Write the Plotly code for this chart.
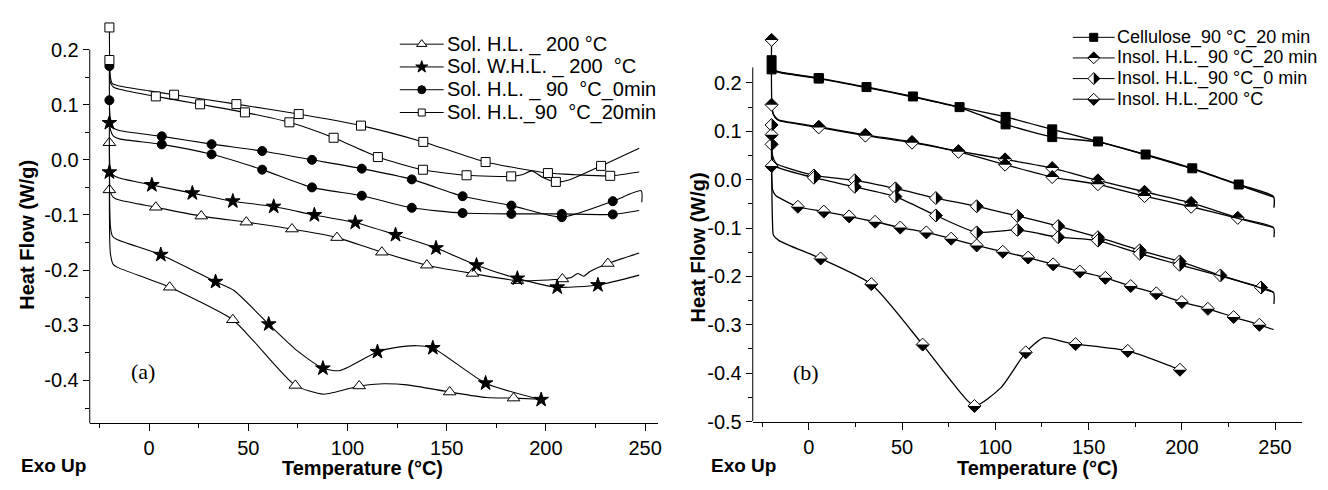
import plotly.graph_objects as go

W, H = 1328, 490

# ================= Panel (a) : soluble fractions =================
# Sol. H.L._90 °C_20min (open squares) - two runs
a_sq1_x = [-20, -19.5, -18.5, -15, 0, 12.6, 44, 75.4, 106.8, 138.2, 169.6, 201, 215, 232.4, 247]
a_sq1_y = [0.240, 0.150, 0.138, 0.134, 0.125, 0.118, 0.101, 0.083, 0.062, 0.0325, -0.004, -0.024, -0.027, -0.029, -0.022]
a_sq1_mk = [0, 5, 6, 7, 8, 9, 10, 11, 13]
a_sq2_x = [-20, -19.5, -18, -15, 3.4, 25.7, 48.3, 70.7, 93, 115.3, 138, 160, 182.5, 188, 193, 198, 205, 212, 227.8, 247]
a_sq2_y = [0.181, 0.140, 0.132, 0.128, 0.115, 0.1007, 0.086, 0.068, 0.040, 0.005, -0.018, -0.028, -0.030, -0.027, -0.020, -0.031, -0.040, -0.036, -0.011, 0.021]
a_sq2_mk = [0, 4, 5, 6, 7, 8, 9, 10, 11, 12, 16, 18]

# Sol. H.L. _ 90 °C_0min (filled circles) - two runs
a_ci1_x = [-20, -19.5, -18, -15, 6.4, 31.5, 57, 82.1, 107.2, 132.4, 158, 182.6, 208, 233.7, 248, 248.3]
a_ci1_y = [0.170, 0.070, 0.058, 0.053, 0.0426, 0.0284, 0.016, 0.0, -0.016, -0.0355, -0.066, -0.083, -0.104, -0.075, -0.056, -0.077]
a_ci1_mk = [0, 4, 5, 6, 7, 8, 9, 10, 11, 12, 13]
a_ci2_x = [-20, -19.5, -18, -15, 6.4, 31.5, 57, 82.1, 107.2, 132.4, 158, 182.6, 208, 233.7, 247]
a_ci2_y = [0.108, 0.055, 0.043, 0.038, 0.028, 0.010, -0.0178, -0.050, -0.065, -0.087, -0.0965, -0.098, -0.098, -0.099, -0.092]
a_ci2_mk = [0, 4, 5, 6, 7, 8, 9, 10, 11, 12, 13]

# Sol. W.H.L. _ 200 °C (filled stars) - two runs
a_st1_x = [-20, -19.5, -18, -15, 1.4, 21.8, 42.2, 62.8, 83.3, 103.9, 124.2, 144.6, 165, 185.6, 205.7, 226.2, 247]
a_st1_y = [0.067, -0.018, -0.028, -0.033, -0.0456, -0.0604, -0.075, -0.0847, -0.100, -0.1137, -0.136, -0.160, -0.191, -0.215, -0.231, -0.227, -0.209]
a_st1_mk = [0, 4, 5, 6, 7, 8, 9, 10, 11, 12, 13, 14, 15]
a_st2_x = [-20, -19.5, -18.5, -15.9, 5.9, 33.5, 42.8, 60.3, 74.6, 87.6, 96.3, 115.1, 124.8, 135, 143, 169.6, 197.6]
a_st2_y = [-0.0225, -0.120, -0.138, -0.145, -0.172, -0.221, -0.237, -0.298, -0.346, -0.378, -0.382, -0.348, -0.340, -0.337, -0.341, -0.405, -0.435]
a_st2_mk = [0, 4, 5, 7, 9, 11, 14, 15, 16]

# Sol. H.L. _ 200 °C (open triangles) - two runs
a_tr1_x = [-20, -19.5, -18, -15, 3.4, 26.3, 49, 72, 94.7, 117.3, 140, 163, 185.6, 208.3, 213, 216, 219, 222, 231.2, 247]
a_tr1_y = [0.031, -0.058, -0.068, -0.073, -0.086, -0.102, -0.113, -0.1255, -0.141, -0.1675, -0.191, -0.206, -0.219, -0.216, -0.213, -0.206, -0.211, -0.203, -0.188, -0.169]
a_tr1_mk = [0, 4, 5, 6, 7, 8, 9, 10, 11, 12, 13, 18]
a_tr2_x = [-20, -19.5, -18, -15.9, 10.4, 42.2, 52.8, 73.7, 88, 105.9, 118, 130, 151.5, 170, 183.7, 197.6]
a_tr2_y = [-0.0545, -0.170, -0.190, -0.195, -0.231, -0.290, -0.329, -0.409, -0.425, -0.410, -0.406, -0.408, -0.421, -0.431, -0.432, -0.434]
a_tr2_mk = [0, 4, 5, 7, 9, 12, 14]

a_legend = ["Sol. H.L. _ 200 °C", "Sol. W.H.L. _ 200  °C", "Sol. H.L. _ 90  °C_0min", "Sol. H.L._90  °C_20min"]

# ================= Panel (b) : insoluble fractions =================
# Cellulose_90 °C_20 min (filled squares)
b_ce1_x = [-20, -19.5, -18, -15, 5.3, 30.9, 55.8, 80.8, 105.5, 130.5, 155.1, 180.6, 205.6, 230.5, 249.2, 249.4]
b_ce1_y = [0.247, 0.232, 0.226, 0.222, 0.210, 0.1915, 0.172, 0.150, 0.1297, 0.104, 0.079, 0.052, 0.0235, -0.010, -0.035, -0.058]
b_ce1_mk = [0, 4, 5, 6, 7, 8, 9, 10, 11, 12, 13]
b_ce2_x = [-20, -18, -15, 5.3, 30.9, 55.8, 80.8, 105.5, 130.5, 155.1, 180.6, 205.6, 230.5, 249.2]
b_ce2_y = [0.228, 0.224, 0.221, 0.209, 0.1905, 0.171, 0.149, 0.1143, 0.088, 0.078, 0.051, 0.0225, -0.011, -0.036]
b_ce2_mk = [0, 3, 7, 8]

# Insol. H.L._90 °C_20 min (diamond, upper half black)
b_tw1_x = [-20, -19.5, -18, -16, 5.3, 30.3, 55.3, 80.2, 105.2, 130.5, 155, 180, 205, 230, 249.2, 249.4]
b_tw1_y = [0.289, 0.140, 0.128, 0.123, 0.1095, 0.0927, 0.078, 0.059, 0.042, 0.024, -0.0014, -0.025, -0.048, -0.079, -0.099, -0.119]
b_tw1_mk = [0, 4, 5, 6, 7, 8, 9, 10, 11, 12, 13]
b_tw2_x = [-20, -19, -17, -16, 5.3, 30.3, 55.3, 80.2, 105.2, 130.5, 155, 180, 205, 230, 249.2]
b_tw2_y = [0.155, 0.135, 0.125, 0.122, 0.108, 0.091, 0.0765, 0.0575, 0.031, 0.0054, -0.0095, -0.034, -0.056, -0.080, -0.099]
b_tw2_mk = [0, 4, 5, 6, 7, 8, 9, 10, 11, 12]

# Insol. H.L._90 °C_0 min (diamond, right half black)
b_ze1_x = [-20, -19.5, -18, -17, 2.7, 24.6, 46.4, 68.1, 90, 111.8, 133.7, 155, 177.4, 198.8, 220.7, 242.5, 249.2, 249.4]
b_ze1_y = [0.113, 0.050, 0.036, 0.032, 0.0087, -0.0013, -0.018, -0.038, -0.055, -0.075, -0.096, -0.119, -0.146, -0.169, -0.198, -0.223, -0.233, -0.257]
b_ze1_mk = [0, 4, 5, 6, 7, 8, 9, 10, 11, 12, 13, 14, 15]
b_ze2_x = [-20, -19.5, -18, -17, 2.7, 24.6, 46.4, 68.1, 90, 111.8, 133.7, 155, 177.4, 198.8, 220.7, 242.5, 249.2]
b_ze2_y = [0.073, 0.040, 0.030, 0.026, 0.004, -0.0148, -0.035, -0.074, -0.109, -0.104, -0.119, -0.126, -0.153, -0.176, -0.199, -0.224, -0.233]
b_ze2_mk = [0, 4, 5, 6, 7, 8, 9, 10, 11, 12, 13]

# Insol. H.L._200 °C (diamond, lower half black)
b_hi1_x = [-20, -19.5, -18, -17, -5.9, 8, 21.6, 35.5, 49, 63, 76.3, 90, 104, 117.6, 131, 145.3, 159, 172.6, 186.3, 200, 214, 227.8, 241.6, 249.2]
b_hi1_y = [0.093, -0.020, -0.032, -0.035, -0.056, -0.066, -0.076, -0.087, -0.099, -0.109, -0.122, -0.136, -0.149, -0.161, -0.175, -0.190, -0.203, -0.220, -0.235, -0.253, -0.267, -0.284, -0.300, -0.310]
b_hi1_mk = [0, 4, 5, 6, 7, 8, 9, 10, 11, 12, 13, 14, 15, 16, 17, 18, 19, 20, 21, 22]
b_hi2_x = [-20, -19.5, -19, -16, 6.3, 33.5, 61, 75, 88.8, 103, 116.3, 125.7, 137.3, 143, 171, 199]
b_hi2_y = [0.028, -0.090, -0.115, -0.126, -0.163, -0.216, -0.341, -0.410, -0.468, -0.430, -0.357, -0.327, -0.336, -0.340, -0.354, -0.393]
b_hi2_mk = [0, 4, 5, 6, 8, 10, 13, 14, 15]

b_legend = ["Cellulose_90 °C_20 min", "Insol. H.L._90 °C_20 min", "Insol. H.L._90 °C_0 min", "Insol. H.L._200 °C"]

# ================= layout helpers =================
FONT = "Liberation Sans, Arial, sans-serif"
SERIF = "Liberation Serif, Times New Roman, serif"

# pixel geometry of the two panels
A_L, A_R, A_T, A_B = 82, 652, 15, 425
B_L, B_R, B_T, B_B = 747, 1298, 15, 423
a_xr = [-29.9, 256.5]
a_yr = [-0.478, 0.2487]
b_xr = [-30.1, 264.5]
b_yr = [-0.5, 0.3246]

HALF = 6.5  # half diagonal of the diamond in px
HALF_PATH = {
    "top": f"M {-HALF},0 L 0,{HALF} L {HALF},0 Z",
    "bottom": f"M {-HALF},0 L 0,{-HALF} L {HALF},0 Z",
    "right": f"M 0,{HALF} L {HALF},0 L 0,{-HALF} Z",
}

fig = go.Figure()
shapes = []


def add_curve(x, y, mk, xa, ya, symbol, fill, size, lw, half=None):
    fig.add_trace(go.Scatter(
        x=x, y=y, mode="lines", xaxis=xa, yaxis=ya,
        line=dict(color="black", width=lw, shape="spline", smoothing=0.6),
        showlegend=False, hoverinfo="skip"))
    mx = [x[i] for i in mk]
    my = [y[i] for i in mk]
    fig.add_trace(go.Scatter(
        x=mx, y=my, mode="markers", xaxis=xa, yaxis=ya, cliponaxis=False,
        marker=dict(symbol=symbol, color=fill, size=size,
                    line=dict(color="black", width=1)),
        showlegend=False, hoverinfo="skip"))
    if half:
        for px, py in zip(mx, my):
            shapes.append(dict(type="path", xref=xa, yref=ya,
                               xsizemode="pixel", ysizemode="pixel",
                               xanchor=px, yanchor=py, path=HALF_PATH[half],
                               fillcolor="black", line=dict(width=0)))


# panel (a)
add_curve(a_tr1_x, a_tr1_y, a_tr1_mk, "x", "y", "triangle-up", "white", 11, 1.1)
add_curve(a_tr2_x, a_tr2_y, a_tr2_mk, "x", "y", "triangle-up", "white", 11, 1.1)
add_curve(a_st1_x, a_st1_y, a_st1_mk, "x", "y", "star", "black", 11, 1.1)
add_curve(a_st2_x, a_st2_y, a_st2_mk, "x", "y", "star", "black", 11, 1.1)
add_curve(a_ci1_x, a_ci1_y, a_ci1_mk, "x", "y", "circle", "black", 9, 1.1)
add_curve(a_ci2_x, a_ci2_y, a_ci2_mk, "x", "y", "circle", "black", 9, 1.1)
add_curve(a_sq1_x, a_sq1_y, a_sq1_mk, "x", "y", "square", "white", 9, 1.1)
add_curve(a_sq2_x, a_sq2_y, a_sq2_mk, "x", "y", "square", "white", 9, 1.1)

# panel (b)
add_curve(b_ce1_x, b_ce1_y, b_ce1_mk, "x2", "y2", "square", "black", 9, 1.4)
add_curve(b_ce2_x, b_ce2_y, b_ce2_mk, "x2", "y2", "square", "black", 9, 1.4)
add_curve(b_tw1_x, b_tw1_y, b_tw1_mk, "x2", "y2", "diamond", "white", 10, 1.3, "top")
add_curve(b_tw2_x, b_tw2_y, b_tw2_mk, "x2", "y2", "diamond", "white", 10, 1.3, "top")
add_curve(b_ze1_x, b_ze1_y, b_ze1_mk, "x2", "y2", "diamond", "white", 10, 1.3, "right")
add_curve(b_ze2_x, b_ze2_y, b_ze2_mk, "x2", "y2", "diamond", "white", 10, 1.3, "right")
add_curve(b_hi1_x, b_hi1_y, b_hi1_mk, "x2", "y2", "diamond", "white", 10, 1.3, "bottom")
add_curve(b_hi2_x, b_hi2_y, b_hi2_mk, "x2", "y2", "diamond", "white", 10, 1.3, "bottom")

# ---------- manual legends on a full-page pixel overlay (x3/y3) ----------
annotations = []


def legend_row(xs, xe, yrow, text, tx, fsize, symbol, fill, msize, half=None):
    xm = (xs + xe) / 2
    fig.add_trace(go.Scatter(x=[xs, xe], y=[yrow, yrow], mode="lines", xaxis="x3", yaxis="y3",
                             line=dict(color="black", width=1), showlegend=False, hoverinfo="skip"))
    fig.add_trace(go.Scatter(x=[xm], y=[yrow], mode="markers", xaxis="x3", yaxis="y3",
                             marker=dict(symbol=symbol, color=fill, size=msize,
                                         line=dict(color="black", width=1)),
                             showlegend=False, hoverinfo="skip"))
    if half:
        shapes.append(dict(type="path", xref="x3", yref="y3", xsizemode="pixel", ysizemode="pixel",
                           xanchor=xm, yanchor=yrow, path=HALF_PATH[half],
                           fillcolor="black", line=dict(width=0)))
    annotations.append(dict(x=tx / W, y=1 - yrow / H, xref="paper", yref="paper", text=text,
                            showarrow=False, xanchor="left", yanchor="middle", borderpad=0,
                            font=dict(family=FONT, size=fsize, color="black")))


a_leg_sym = [("triangle-up", "white", 9), ("star", "black", 9), ("circle", "black", 8), ("square", "white", 7)]
for i, (t, (sym, fc, ms)) in enumerate(zip(a_legend, a_leg_sym)):
    legend_row(393, 437, 37 + 23.3 * i, t, 439, 20, sym, fc, ms)

b_leg_sym = [("square", "black", 8, None), ("diamond", "white", 9, "top"),
             ("diamond", "white", 9, "right"), ("diamond", "white", 9, "bottom")]
for i, (t, (sym, fc, ms, hf)) in enumerate(zip(b_legend, b_leg_sym)):
    legend_row(1068, 1110, 30 + 21.1 * i, t, 1111, 18, sym, fc, ms, hf)

# axis lines (y) stopping at the top tick, as in the original
shapes.append(dict(type="line", xref="paper", yref="y", x0=A_L / W, x1=A_L / W,
                   y0=a_yr[0], y1=0.2, line=dict(color="black", width=1)))
shapes.append(dict(type="line", xref="paper", yref="y2", x0=B_L / W, x1=B_L / W,
                   y0=b_yr[0], y1=0.232, line=dict(color="black", width=1)))


def txt(x, y, s, size, bold=False, angle=0, family=FONT):
    annotations.append(dict(x=x / W, y=1 - y / H, xref="paper", yref="paper",
                            text=f"<b>{s}</b>" if bold else s, showarrow=False,
                            textangle=angle, xanchor="center", yanchor="middle", borderpad=0,
                            font=dict(family=family, size=size, color="black")))


txt(19, 232, "Heat Flow (W/g)", 20, bold=True, angle=-90)
txt(692, 245, "Heat Flow (W/g)", 20, bold=True, angle=-90)
txt(356, 471, "Temperature (°C)", 20, bold=True)
txt(1033, 471, "Temperature (°C)", 20, bold=True)
txt(46, 468, "Exo Up", 19, bold=True)
txt(738, 468, "Exo Up", 19, bold=True)
txt(135, 372, "(a)", 22, family=SERIF)
txt(800, 373, "(b)", 22, family=SERIF)

xticks = [0, 50, 100, 150, 200, 250]
xminor = [-25, 25, 75, 125, 175, 225]
a_yticks = [0.2, 0.1, 0.0, -0.1, -0.2, -0.3, -0.4]
a_yminor = [0.15, 0.05, -0.05, -0.15, -0.25, -0.35, -0.45]
b_yticks = [0.2, 0.1, 0.0, -0.1, -0.2, -0.3, -0.4, -0.5]
b_yminor = [0.15, 0.05, -0.05, -0.15, -0.25, -0.35, -0.45]

tickfont = dict(family=FONT, size=20, color="black")


def xaxis(domain, rng, anchor):
    return dict(domain=domain, range=rng, anchor=anchor, showline=True, linecolor="black",
                linewidth=1, ticks="outside", ticklen=7, tickwidth=1, tickcolor="black",
                tickvals=xticks, ticktext=[str(v) for v in xticks],
                minor=dict(ticks="outside", ticklen=4, tickvals=xminor, tickcolor="black"),
                showgrid=False, zeroline=False, tickfont=tickfont, fixedrange=True)


def yaxis(domain, rng, anchor, tv, mv):
    return dict(domain=domain, range=rng, anchor=anchor, showline=False,
                ticks="outside", ticklen=6, tickwidth=1, tickcolor="black",
                tickvals=tv, ticktext=[f"{v:.1f}" for v in tv],
                minor=dict(ticks="outside", ticklen=4, tickvals=mv, tickcolor="black"),
                showgrid=False, zeroline=False, tickfont=tickfont, fixedrange=True)


fig.update_layout(
    width=W, height=H, margin=dict(l=0, r=0, t=0, b=0),
    paper_bgcolor="white", plot_bgcolor="rgba(0,0,0,0)", showlegend=False,
    xaxis=xaxis([A_L / W, A_R / W], a_xr, "y"),
    yaxis=yaxis([1 - A_B / H, 1 - A_T / H], a_yr, "x", a_yticks, a_yminor),
    xaxis2=xaxis([B_L / W, B_R / W], b_xr, "y2"),
    yaxis2=yaxis([1 - B_B / H, 1 - B_T / H], b_yr, "x2", b_yticks, b_yminor),
    xaxis3=dict(domain=[0, 1], range=[0, W], anchor="y3", visible=False, fixedrange=True),
    yaxis3=dict(domain=[0, 1], range=[H, 0], anchor="x3", visible=False, fixedrange=True),
    shapes=shapes, annotations=annotations,
)

fig.write_html("out.html")
